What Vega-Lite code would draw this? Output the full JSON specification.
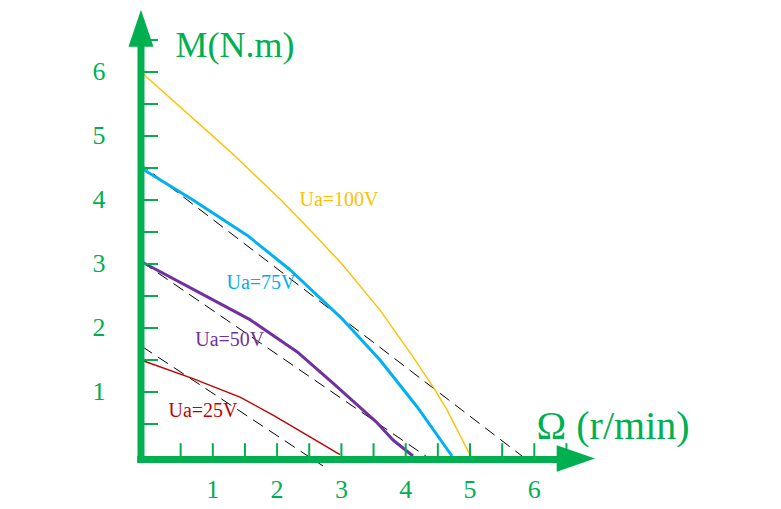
{
  "$schema": "https://vega.github.io/schema/vega-lite/v6.json",
  "width": 781,
  "height": 509,
  "padding": 0,
  "autosize": {"type": "fit", "contains": "padding"},
  "background": "white",
  "config": {"view": {"stroke": null}},
  "datasets": {
    "curves": [
      {"series": "Ua=100V", "x": -0.117, "y": 6.0},
      {"series": "Ua=100V", "x": 1.267, "y": 4.76},
      {"series": "Ua=100V", "x": 2.061, "y": 4.0},
      {"series": "Ua=100V", "x": 2.512, "y": 3.53},
      {"series": "Ua=100V", "x": 3.009, "y": 3.0},
      {"series": "Ua=100V", "x": 3.6, "y": 2.28},
      {"series": "Ua=100V", "x": 4.114, "y": 1.55},
      {"series": "Ua=100V", "x": 4.425, "y": 1.08},
      {"series": "Ua=100V", "x": 4.642, "y": 0.72},
      {"series": "Ua=100V", "x": 5.0, "y": 0.02},
      {"series": "Ua=75V", "x": -0.117, "y": 4.5},
      {"series": "Ua=75V", "x": 0.692, "y": 4.0},
      {"series": "Ua=75V", "x": 1.532, "y": 3.45},
      {"series": "Ua=75V", "x": 2.201, "y": 2.91},
      {"series": "Ua=75V", "x": 3.025, "y": 2.13},
      {"series": "Ua=75V", "x": 3.6, "y": 1.5},
      {"series": "Ua=75V", "x": 4.176, "y": 0.77},
      {"series": "Ua=75V", "x": 4.72, "y": 0.0},
      {"series": "Ua=50V", "x": -0.08, "y": 3.02},
      {"series": "Ua=50V", "x": 1.003, "y": 2.44},
      {"series": "Ua=50V", "x": 1.579, "y": 2.13},
      {"series": "Ua=50V", "x": 2.309, "y": 1.63},
      {"series": "Ua=50V", "x": 2.869, "y": 1.14},
      {"series": "Ua=50V", "x": 3.554, "y": 0.52},
      {"series": "Ua=50V", "x": 3.802, "y": 0.25},
      {"series": "Ua=50V", "x": 4.114, "y": 0.0},
      {"series": "Ua=25V", "x": -0.117, "y": 1.5},
      {"series": "Ua=25V", "x": 0.692, "y": 1.21},
      {"series": "Ua=25V", "x": 1.423, "y": 0.92},
      {"series": "Ua=25V", "x": 1.936, "y": 0.64},
      {"series": "Ua=25V", "x": 2.512, "y": 0.3},
      {"series": "Ua=25V", "x": 2.978, "y": 0.02}
    ],
    "dashed": [
      {"line": "A", "x": -0.1, "y": 1.71},
      {"line": "A", "x": 2.714, "y": -0.156},
      {"line": "B", "x": -0.1, "y": 3.03},
      {"line": "B", "x": 4.378, "y": -0.047},
      {"line": "C", "x": -0.163, "y": 4.59},
      {"line": "C", "x": 5.886, "y": -0.06}
    ],
    "ticks": [
      {"v": 0.5}, {"v": 1}, {"v": 1.5}, {"v": 2}, {"v": 2.5}, {"v": 3}, {"v": 3.5},
      {"v": 4}, {"v": 4.5}, {"v": 5}, {"v": 5.5}, {"v": 6}, {"v": 6.5}
    ],
    "ticklabels": [
      {"v": 1, "label": "1"}, {"v": 2, "label": "2"}, {"v": 3, "label": "3"},
      {"v": 4, "label": "4"}, {"v": 5, "label": "5"}, {"v": 6, "label": "6"}
    ],
    "axes": [
      {"axis": "y", "x": -0.117, "y": -0.11, "x2": -0.117, "y2": 6.45},
      {"axis": "x", "x": -0.175, "y": -0.055, "x2": 6.4, "y2": -0.055}
    ],
    "serieslabels": [
      {"series": "Ua=100V", "x": 2.963, "y": 4.0},
      {"series": "Ua=75V", "x": 1.75, "y": 2.7},
      {"series": "Ua=50V", "x": 1.263, "y": 1.81},
      {"series": "Ua=25V", "x": 0.848, "y": 0.7}
    ],
    "titles": [
      {"t": "M(N.m)", "x": 1.345, "y": 6.41, "which": "y"},
      {"t": "Ω (r/min)", "x": 7.225, "y": 0.45, "which": "x"}
    ]
  },
  "layer": [
    {
      "data": {"name": "dashed"},
      "mark": {"type": "line", "color": "black", "strokeWidth": 1, "strokeDash": [12, 7]},
      "encoding": {
        "x": {"field": "x", "type": "quantitative", "scale": {"domain": [-2.3095, 9.8367], "nice": false, "zero": false}, "axis": null},
        "y": {"field": "y", "type": "quantitative", "scale": {"domain": [-0.828125, 7.125], "nice": false, "zero": false}, "axis": null},
        "detail": {"field": "line", "type": "nominal"}
      }
    },
    {
      "data": {"name": "curves"},
      "transform": [{"filter": {"field": "series", "oneOf": ["Ua=100V", "Ua=25V"]}}],
      "mark": {"type": "line", "strokeWidth": 1.4, "strokeJoin": "round"},
      "encoding": {
        "x": {"field": "x", "type": "quantitative", "axis": null},
        "y": {"field": "y", "type": "quantitative", "axis": null},
        "color": {"field": "series", "type": "nominal", "legend": null,
          "scale": {"domain": ["Ua=100V", "Ua=75V", "Ua=50V", "Ua=25V"], "range": ["#FFC000", "#00B0F0", "#7030A0", "#C00000"]}}
      }
    },
    {
      "data": {"name": "curves"},
      "transform": [{"filter": {"field": "series", "oneOf": ["Ua=75V", "Ua=50V"]}}],
      "mark": {"type": "line", "strokeWidth": 3, "strokeJoin": "round"},
      "encoding": {
        "x": {"field": "x", "type": "quantitative", "axis": null},
        "y": {"field": "y", "type": "quantitative", "axis": null},
        "color": {"field": "series", "type": "nominal", "legend": null}
      }
    },
    {
      "data": {"name": "ticks"},
      "mark": {"type": "rule", "color": "#00B050", "strokeWidth": 2},
      "encoding": {
        "y": {"field": "v", "type": "quantitative", "axis": null},
        "x": {"datum": -0.117, "type": "quantitative", "axis": null},
        "x2": {"datum": 0.148}
      }
    },
    {
      "data": {"name": "ticks"},
      "mark": {"type": "rule", "color": "#00B050", "strokeWidth": 2},
      "encoding": {
        "x": {"field": "v", "type": "quantitative", "axis": null},
        "y": {"datum": -0.05, "type": "quantitative", "axis": null},
        "y2": {"datum": 0.2}
      }
    },
    {
      "data": {"name": "axes"},
      "mark": {"type": "rule", "color": "#00B050", "strokeWidth": 7},
      "encoding": {
        "x": {"field": "x", "type": "quantitative", "axis": null},
        "y": {"field": "y", "type": "quantitative", "axis": null},
        "x2": {"field": "x2"},
        "y2": {"field": "y2"}
      }
    },
    {
      "data": {"values": [{"x": -0.117, "y": 6.683}]},
      "mark": {"type": "point", "filled": true, "color": "#00B050", "opacity": 1, "size": 1369, "shape": "M0,-1L0.676,1L-0.676,1Z", "strokeWidth": 0},
      "encoding": {
        "x": {"field": "x", "type": "quantitative", "axis": null},
        "y": {"field": "y", "type": "quantitative", "axis": null}
      }
    },
    {
      "data": {"values": [{"x": 6.646, "y": -0.039}]},
      "mark": {"type": "point", "filled": true, "color": "#00B050", "opacity": 1, "size": 1467, "shape": "M1,0L-1,0.697L-1,-0.697Z", "strokeWidth": 0},
      "encoding": {
        "x": {"field": "x", "type": "quantitative", "axis": null},
        "y": {"field": "y", "type": "quantitative", "axis": null}
      }
    },
    {
      "data": {"name": "ticklabels"},
      "mark": {"type": "text", "font": "Liberation Serif", "fontSize": 26, "color": "#00B050", "align": "center", "baseline": "middle"},
      "encoding": {
        "x": {"field": "v", "type": "quantitative", "axis": null},
        "y": {"datum": -0.53, "type": "quantitative", "axis": null},
        "text": {"field": "label"}
      }
    },
    {
      "data": {"name": "ticklabels"},
      "mark": {"type": "text", "font": "Liberation Serif", "fontSize": 26, "color": "#00B050", "align": "center", "baseline": "middle"},
      "encoding": {
        "y": {"field": "v", "type": "quantitative", "axis": null},
        "x": {"datum": -0.77, "type": "quantitative", "axis": null},
        "text": {"field": "label"}
      }
    },
    {
      "data": {"name": "serieslabels"},
      "mark": {"type": "text", "font": "Liberation Serif", "fontSize": 20, "align": "center", "baseline": "middle"},
      "encoding": {
        "x": {"field": "x", "type": "quantitative", "axis": null},
        "y": {"field": "y", "type": "quantitative", "axis": null},
        "text": {"field": "series"},
        "color": {"field": "series", "type": "nominal", "legend": null}
      }
    },
    {
      "data": {"name": "titles"},
      "transform": [{"filter": {"field": "which", "equal": "y"}}],
      "mark": {"type": "text", "font": "Liberation Serif", "fontSize": 36, "color": "#00B050", "align": "center", "baseline": "middle"},
      "encoding": {
        "x": {"field": "x", "type": "quantitative", "axis": null},
        "y": {"field": "y", "type": "quantitative", "axis": null},
        "text": {"field": "t"}
      }
    },
    {
      "data": {"name": "titles"},
      "transform": [{"filter": {"field": "which", "equal": "x"}}],
      "mark": {"type": "text", "font": "Liberation Serif", "fontSize": 40, "color": "#00B050", "align": "center", "baseline": "middle"},
      "encoding": {
        "x": {"field": "x", "type": "quantitative", "axis": null},
        "y": {"field": "y", "type": "quantitative", "axis": null},
        "text": {"field": "t"}
      }
    }
  ]
}
